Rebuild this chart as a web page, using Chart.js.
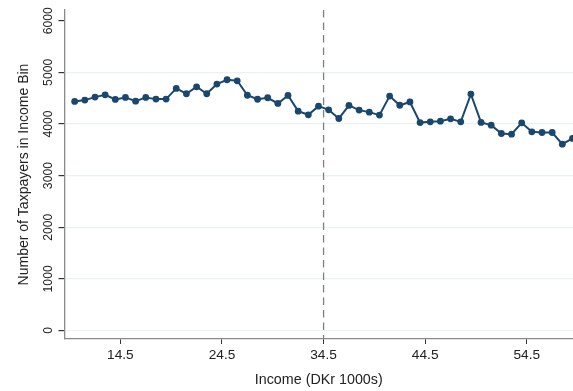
<!DOCTYPE html>
<html>
<head>
<meta charset="utf-8">
<script src="https://cdn.jsdelivr.net/npm/chart.js@4.4.1/dist/chart.umd.min.js"></script>
<style>
  html, body { margin: 0; padding: 0; background: #ffffff; }
  #wrap { width: 573px; height: 391px; position: relative; }
</style>
</head>
<body>
<div id="wrap"><canvas id="chart"></canvas></div>
<script>
// Income bins (DKr 1000s) and number of taxpayers in each bin
const incomeBins = [10, 11, 12, 13, 14, 15, 16, 17, 18, 19,
                    20, 21, 22, 23, 24, 25, 26, 27, 28, 29,
                    30, 31, 32, 33, 34, 35, 36, 37, 38, 39,
                    40, 41, 42, 43, 44, 45, 46, 47, 48, 49,
                    50, 51, 52, 53, 54, 55, 56, 57, 58, 59];
const taxpayers = [4436, 4462, 4520, 4565, 4475, 4514, 4442, 4514, 4481, 4481,
                   4688, 4585, 4720, 4585, 4772, 4856, 4836, 4556, 4478, 4507,
                   4397, 4553, 4248, 4177, 4345, 4274, 4106, 4359, 4268, 4229,
                   4171, 4539, 4362, 4426, 4026, 4041, 4054, 4100, 4041, 4578,
                   4029, 3977, 3815, 3802, 4022, 3847, 3834, 3834, 3608, 3719];
const xTickValues = [14.5, 24.5, 34.5, 44.5, 54.5];
const yTickValues = [0, 1000, 2000, 3000, 4000, 5000, 6000];
const cutoff = 34.5;
const xRange = [9.0, 59.05];
const yRange = [-165, 6207];

const navy = '#1a476f';
const gridBlue = '#eaf2f3';
const axisGrey = '#8a8a8a';
const textColor = '#222222';

const points = incomeBins.map((x, i) => ({ x: x, y: taxpayers[i] }));
const cutoffLine = [{ x: cutoff, y: yRange[1] }, { x: cutoff, y: yRange[0] }];

new Chart(document.getElementById('chart'), {
  type: 'scatter',
  data: {
    datasets: [
      {
        data: cutoffLine,
        showLine: true,
        borderColor: '#7f7f7f',
        borderWidth: 1.3,
        borderDash: [7.5, 5],
        pointRadius: 0,
        order: 2
      },
      {
        data: points,
        showLine: true,
        borderColor: navy,
        borderWidth: 2,
        pointRadius: 3.4,
        pointBackgroundColor: navy,
        pointBorderColor: navy,
        pointBorderWidth: 0,
        order: 1
      }
    ]
  },
  options: {
    responsive: true,
    maintainAspectRatio: false,
    animation: false,
    events: [],
    layout: { autoPadding: false, padding: { top: 10, right: 0, bottom: 0, left: 0 } },
    plugins: { legend: { display: false }, tooltip: { enabled: false } },
    scales: {
      x: {
        type: 'linear',
        min: xRange[0],
        max: xRange[1],
        afterBuildTicks: (s) => { s.ticks = xTickValues.map(v => ({ value: v })); },
        afterFit: (s) => { s.height = 52; },
        grid: { display: true, drawOnChartArea: false, drawTicks: true, tickLength: 5, tickColor: '#333333', tickWidth: 1 },
        border: { display: true, color: axisGrey, width: 1.3 },
        ticks: {
          autoSkip: false,
          maxRotation: 0,
          padding: 3,
          color: textColor,
          font: { family: '"Liberation Sans", Arial, sans-serif', size: 13.7 },
          callback: (v) => v.toFixed(1)
        },
        title: {
          display: true,
          text: 'Income (DKr 1000s)',
          color: textColor,
          font: { family: '"Liberation Sans", Arial, sans-serif', size: 14.3 },
          padding: { top: 0, bottom: 2 }
        }
      },
      y: {
        type: 'linear',
        min: yRange[0],
        max: yRange[1],
        afterBuildTicks: (s) => { s.ticks = yTickValues.map(v => ({ value: v })); },
        afterFit: (s) => { s.width = 64.5; },
        grid: {
          display: true,
          drawTicks: true,
          tickLength: 6,
          tickColor: '#333333',
          lineWidth: 1.2,
          color: (ctx) => (ctx.tick && ctx.tick.value === 6000 ? 'rgba(0,0,0,0)' : gridBlue)
        },
        border: { display: true, color: axisGrey, width: 1.3 },
        ticks: {
          autoSkip: false,
          minRotation: 90,
          maxRotation: 90,
          crossAlign: 'center',
          padding: -4,
          color: textColor,
          font: { family: '"Liberation Sans", Arial, sans-serif', size: 12.2 },
          callback: (v) => String(v)
        },
        title: {
          display: true,
          text: 'Number of Taxpayers in Income Bin',
          color: textColor,
          font: { family: '"Liberation Sans", Arial, sans-serif', size: 14 },
          padding: { top: 15.5, bottom: 0 }
        }
      }
    }
  }
});
</script>
</body>
</html>
